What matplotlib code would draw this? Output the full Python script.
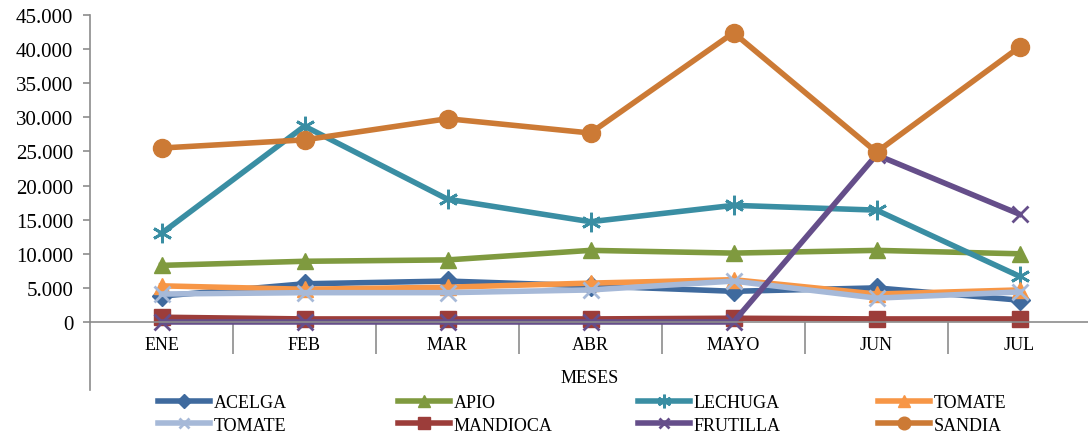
import matplotlib
matplotlib.use("Agg")
import matplotlib.pyplot as plt
from matplotlib.ticker import FuncFormatter, FixedLocator

plt.rcParams['font.family'] = ['Liberation Serif', 'DejaVu Serif']

meses = ['ENE', 'FEB', 'MAR', 'ABR', 'MAYO', 'JUN', 'JUL']

acelga = [3800, 5600, 6000, 5300, 4500, 5000, 3200]
apio = [8300, 8900, 9100, 10500, 10100, 10500, 10000]
lechuga = [13000, 28700, 18000, 14700, 17100, 16400, 6700]
tomate = [5300, 4800, 5100, 5700, 6200, 4100, 4700]
tomate2 = [4100, 4300, 4300, 4700, 6000, 3500, 4400]
mandioca = [700, 450, 450, 450, 550, 450, 450]
frutilla = [0, 0, 0, 0, 0, 24500, 15800]
sandia = [25500, 26700, 29800, 27700, 42400, 24900, 40300]

series = [
    ('ACELGA', acelga, '#3F6A9E', 'D', 10),
    ('APIO', apio, '#7F9A3F', '^', 12),
    ('LECHUGA', lechuga, '#3A8EA3', (6, 2, 0), 14),
    ('TOMATE', tomate, '#F79646', '^', 12),
    ('TOMATE', tomate2, '#A6B9D8', 'x', 11),
    ('MANDIOCA', mandioca, '#9C3D3A', 's', 12),
    ('FRUTILLA', frutilla, '#654E8A', 'x', 11),
    ('SANDIA', sandia, '#CC7A35', 'o', 13),
]

fig = plt.figure(figsize=(10.88, 4.39), dpi=100)
ax = fig.add_axes([90 / 1088, 116 / 439, 1001 / 1088, 307 / 439])

x = list(range(len(meses)))
handles = []
for name, vals, col, mk, ms in series:
    thin = mk in ('x',) or isinstance(mk, tuple)
    h, = ax.plot(x, vals, color=col, lw=4, marker=mk, ms=ms,
                 mec=col, mfc=col, mew=2 if thin else 1, label=name,
                 solid_joinstyle='round', clip_on=False)
    handles.append(h)

ax.set_xlim(-0.5, 6.5)
ax.set_ylim(0, 45000)

grey = '#8C8C8C'
for s in ('top', 'right'):
    ax.spines[s].set_visible(False)
for s in ('left', 'bottom'):
    ax.spines[s].set_color(grey)
    ax.spines[s].set_linewidth(1.2)

# vertical axis line continues down past the category labels
ax.plot([0, 0], [-0.22, 0], transform=ax.transAxes, color=grey,
        lw=1.2, clip_on=False)

ax.yaxis.set_major_locator(FixedLocator(range(0, 45001, 5000)))
ax.yaxis.set_major_formatter(
    FuncFormatter(lambda v, p: f'{int(v):,}'.replace(',', '.')))
ax.tick_params(axis='y', length=5, width=1.2, color=grey, pad=7,
               labelsize=15)

# long ticks between categories, labels centred under each month
ax.xaxis.set_major_locator(FixedLocator([i + 0.5 for i in range(6)]))
ax.xaxis.set_major_formatter(FuncFormatter(lambda v, p: ''))
ax.xaxis.set_minor_locator(FixedLocator(x))
ax.set_xticklabels(meses, minor=True)
ax.tick_params(axis='x', which='major', length=23, width=1.2, color=grey)
ax.tick_params(axis='x', which='minor', length=0, pad=10, labelsize=13)

fig.text(590 / 1088, 1 - 379 / 439, 'MESES', ha='center', va='center',
         fontsize=13)

# legend laid out as four equal columns, two rows
col_x = [158, 398, 638, 878]
for j, cx in enumerate(col_x):
    hs = [handles[j], handles[j + 4]]
    fig.legend(hs, [h.get_label() for h in hs], loc='center left',
               bbox_to_anchor=(cx / 1088, 1 - 415 / 439), frameon=False,
               fontsize=13, handlelength=2.9, handletextpad=0.2,
               borderpad=0, borderaxespad=0, labelspacing=0.3,
               markerscale=0.7)

fig.savefig('out.png', dpi=100)
